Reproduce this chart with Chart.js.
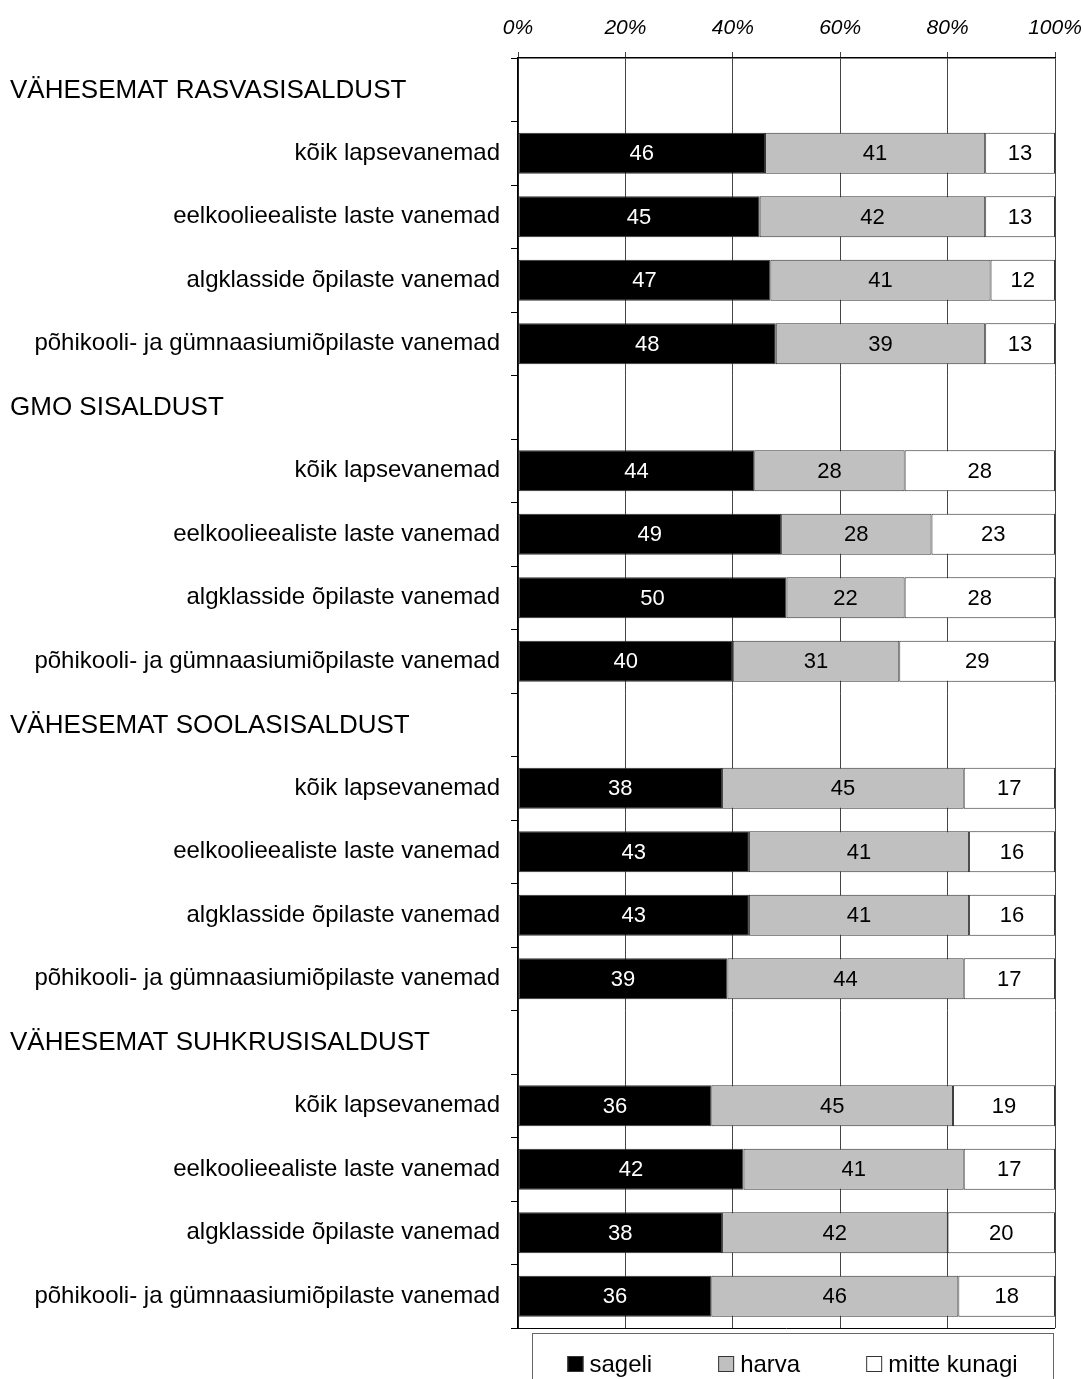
<!DOCTYPE html>
<html>
<head>
<meta charset="utf-8">
<script src="https://cdn.jsdelivr.net/npm/chart.js@4.4.1/dist/chart.umd.min.js"></script>
<style>
  html, body { margin: 0; padding: 0; background: #fff; }
  #wrap { width: 1083px; height: 1379px; position: relative; }
</style>
</head>
<body>
<div id="wrap"><canvas id="chart"></canvas></div>
<script>
// rows of the chart, group headers have no bars
const headers = ['VÄHESEMAT RASVASISALDUST', 'GMO SISALDUST', 'VÄHESEMAT SOOLASISALDUST', 'VÄHESEMAT SUHKRUSISALDUST'];
const subgroups = ['kõik lapsevanemad', 'eelkoolieealiste laste vanemad', 'algklasside õpilaste vanemad', 'põhikooli- ja gümnaasiumiõpilaste vanemad'];

const labels = [
  headers[0], ...subgroups,
  headers[1], ...subgroups,
  headers[2], ...subgroups,
  headers[3], ...subgroups
];

const seriesNames = ['sageli', 'harva', 'mitte kunagi'];
const sageli      = [null, 46, 45, 47, 48, null, 44, 49, 50, 40, null, 38, 43, 43, 39, null, 36, 42, 38, 36];
const harva       = [null, 41, 42, 41, 39, null, 28, 28, 22, 31, null, 45, 41, 41, 44, null, 45, 41, 42, 46];
const mitteKunagi = [null, 13, 13, 12, 13, null, 28, 23, 28, 29, null, 17, 16, 16, 17, null, 19, 17, 20, 18];

const xTickLabels = ['0%', '20%', '40%', '60%', '80%', '100%'];

const FONT = "'Liberation Sans', Arial, sans-serif";
const colors = ['#000000', '#c0c0c0', '#ffffff'];
const labelColors = ['#ffffff', '#000000', '#000000'];

// group headers drawn left aligned, bottom frame line, value labels, boxed legend
const extras = {
  id: 'extras',
  afterDraw(chart) {
    const ctx = chart.ctx;
    const area = chart.chartArea;
    const yScale = chart.scales.y;
    ctx.save();

    // bottom frame line
    ctx.strokeStyle = '#000';
    ctx.lineWidth = 1;
    ctx.beginPath();
    ctx.moveTo(area.left, Math.round(area.bottom) + 0.5);
    ctx.lineTo(area.right, Math.round(area.bottom) + 0.5);
    ctx.stroke();

    // headers
    ctx.fillStyle = '#000';
    ctx.font = '26px ' + FONT;
    ctx.textAlign = 'left';
    ctx.textBaseline = 'middle';
    labels.forEach((lab, i) => {
      if (headers.includes(lab)) {
        ctx.fillText(lab, 10, yScale.getPixelForValue(i) + 1);
      }
    });

    // value labels
    ctx.font = '22px ' + FONT;
    ctx.textAlign = 'center';
    chart.data.datasets.forEach((ds, di) => {
      const meta = chart.getDatasetMeta(di);
      meta.data.forEach((el, i) => {
        const v = ds.data[i];
        if (v == null) return;
        ctx.fillStyle = labelColors[di];
        ctx.fillText(String(v), (el.x + el.base) / 2, el.y + 1);
      });
    });

    // legend box
    const boxLeft = area.left + 14;
    const boxRight = area.right - 2;
    const boxTop = area.bottom + 5;
    ctx.strokeStyle = '#666';
    ctx.lineWidth = 1;
    ctx.strokeRect(boxLeft + 0.5, boxTop + 0.5, boxRight - boxLeft, 100);

    ctx.font = '24px ' + FONT;
    ctx.textAlign = 'left';
    const sq = 16, gapIn = 6, gapOut = 66;
    const widths = seriesNames.map(n => ctx.measureText(n).width);
    let total = 0;
    widths.forEach((w, i) => { total += sq + gapIn + w + (i < widths.length - 1 ? gapOut : 0); });
    let x = (boxLeft + boxRight) / 2 - total / 2;
    const cy = area.bottom + 36;
    seriesNames.forEach((n, i) => {
      ctx.fillStyle = colors[i];
      ctx.fillRect(x, cy - sq / 2, sq, sq);
      ctx.strokeStyle = '#333';
      ctx.strokeRect(x + 0.5, cy - sq / 2 + 0.5, sq - 1, sq - 1);
      ctx.fillStyle = '#000';
      ctx.fillText(n, x + sq + gapIn, cy + 1);
      x += sq + gapIn + widths[i] + gapOut;
    });

    ctx.restore();
  }
};

const datasets = [sageli, harva, mitteKunagi].map((d, i) => ({
  label: seriesNames[i],
  data: d,
  backgroundColor: colors[i],
  borderColor: '#333',
  borderWidth: 1,
  borderSkipped: false,
  categoryPercentage: 1,
  barPercentage: 0.645
}));

new Chart(document.getElementById('chart'), {
  type: 'bar',
  data: { labels: labels, datasets: datasets },
  plugins: [extras],
  options: {
    indexAxis: 'y',
    responsive: true,
    maintainAspectRatio: false,
    animation: false,
    layout: { padding: { top: 0, left: 0, right: 28, bottom: 51 } },
    plugins: {
      legend: { display: false },
      tooltip: { enabled: false }
    },
    scales: {
      x: {
        position: 'top',
        stacked: true,
        min: 0,
        max: 100,
        ticks: {
          stepSize: 20,
          padding: 11,
          color: '#000',
          font: { family: FONT, size: 21, style: 'italic' },
          callback: (v) => xTickLabels[v / 20]
        },
        grid: { color: '#444', lineWidth: 1, tickLength: 6 },
        border: { display: true, color: '#000', width: 1.5 },
        afterFit: (s) => { s.height = 58; s.paddingLeft = 0; s.paddingRight = 0; }
      },
      y: {
        stacked: true,
        ticks: {
          autoSkip: false,
          padding: 11,
          color: '#000',
          font: { family: FONT, size: 24 },
          callback: function (v) {
            const lab = labels[v];
            return headers.includes(lab) ? '' : lab;
          }
        },
        grid: { drawOnChartArea: false, color: '#000', tickLength: 7, offset: true },
        border: { display: true, color: '#000', width: 1.5 },
        afterFit: (s) => { s.width = 518; }
      }
    }
  }
});
</script>
</body>
</html>
